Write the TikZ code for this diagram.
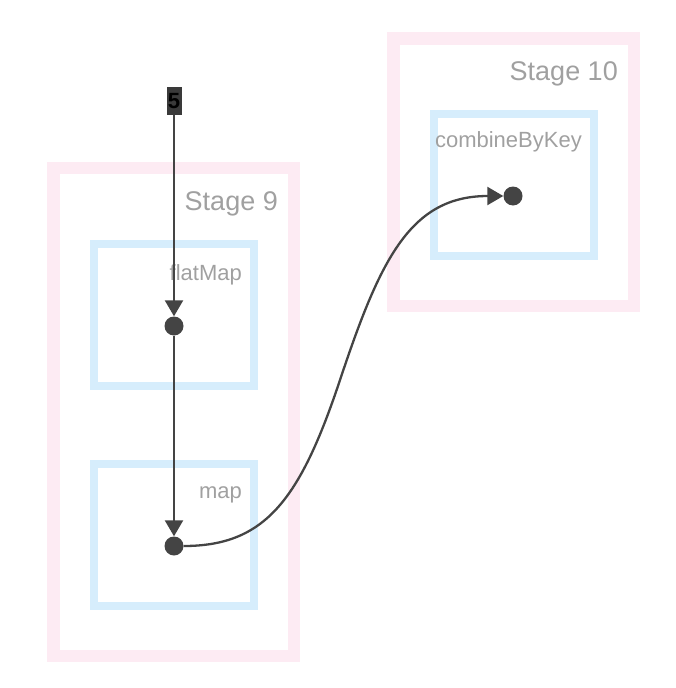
\documentclass[tikz,border=0pt]{standalone}
\usepackage{fontspec}
\setmainfont{Liberation Sans}
\usetikzlibrary{arrows.meta}
\definecolor{pinkc}{RGB}{253,235,243}
\definecolor{bluec}{RGB}{214,237,252}
\definecolor{textg}{RGB}{160,160,160}
\definecolor{darkc}{RGB}{68,68,68}
\definecolor{lblc}{RGB}{58,58,58}
\tikzset{
  stagebox/.style={draw=pinkc, line width=12.5pt, inner sep=0pt, rectangle},
  opbox/.style={draw=bluec, line width=8pt, inner sep=0pt, rectangle},
  stagelbl/.style={anchor=base east, inner sep=0pt, text=textg, font=\fontsize{27}{27}\selectfont},
  oplbl/.style={anchor=base east, inner sep=0pt, text=textg, font=\fontsize{22}{22}\selectfont},
  dotnode/.style={circle, fill=darkc, inner sep=0pt, minimum size=19pt},
  edge/.style={draw=darkc, line width=2.3pt, -{Triangle[length=16pt,width=18pt]}},
  srclbl/.style={fill=lblc, inner sep=0pt, minimum width=15pt, minimum height=28pt, font=\bfseries\fontsize{22}{22}\selectfont, text=black}
}
\begin{document}
\begin{tikzpicture}[x=1pt,y=-1pt]
\useasboundingbox (0,0) rectangle (676,688);
% stages
\node[stagebox, minimum width=240.5pt, minimum height=488pt] (s9) at (173.75,412) {};
\node[stagebox, minimum width=240.5pt, minimum height=267.5pt] (s10) at (513.75,172.25) {};
\node[stagelbl] (s9l) at (278,210) {Stage 9};
\node[stagelbl] (s10l) at (618,80) {Stage 10};
% op boxes
\node[opbox, minimum width=160pt, minimum height=142pt] (fmb) at (174,315) {};
\node[opbox, minimum width=160pt, minimum height=142pt] (mpb) at (174,535) {};
\node[opbox, minimum width=160pt, minimum height=142pt] (cbb) at (514,185) {};
\node[oplbl] (fml) at (242,280) {flatMap};
\node[oplbl] (mpl) at (242,498) {map};
\node[oplbl] (cbl) at (582,147) {combineByKey};
% dots
\node[dotnode] (fm) at (174,326) {};
\node[dotnode] (mp) at (174,546) {};
\node[dotnode] (cb) at (513,196) {};
% source label
\node[srclbl] (src) at (174,101) {5};
% edges
\draw[edge] (src) -- (fm);
\draw[edge] (fm) -- (mp);
\draw[edge] (mp.east) .. controls (265,546) and (300,500) .. (340,380) .. controls (380,260) and (410,196) .. (cb.west);
\end{tikzpicture}
\end{document}
